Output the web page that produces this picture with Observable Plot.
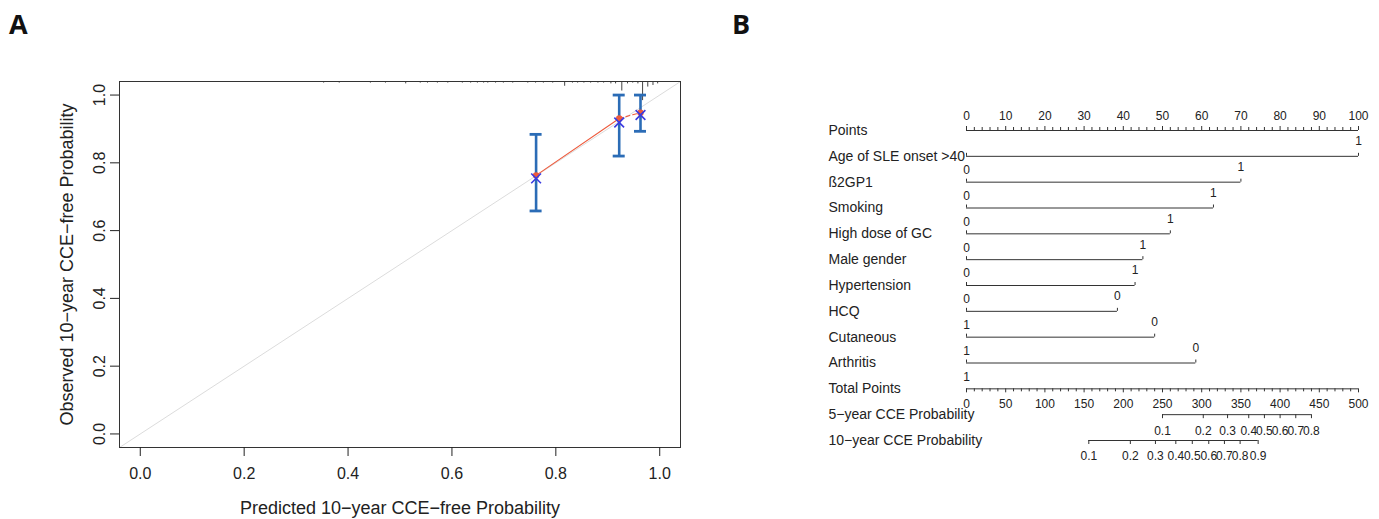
<!DOCTYPE html>
<html><head><meta charset="utf-8">
<script src="https://cdn.jsdelivr.net/npm/d3@7"></script>
<script src="https://cdn.jsdelivr.net/npm/@observablehq/plot@0.6"></script>
<style>
body{margin:0;background:#fff;}
#wrap{position:relative;width:1379px;height:519px;overflow:hidden;background:#fff;}
.letter{position:absolute;font-family:"Open Sans",sans-serif;font-weight:700;font-size:27px;color:#111;line-height:1;}
#a{position:absolute;left:0;top:0;}
#b{position:absolute;left:700px;top:0;}
</style></head><body>
<div id="wrap">
<div id="a"></div><div id="b"></div>
<div class="letter" style="left:9px;top:10px">A</div>
<div class="letter" style="left:732px;top:10px">B</div>
</div>
<script>
// ---------- Panel A: calibration curve ----------
const groupPredicted = [0.762, 0.922, 0.963];
const groupObservedKM = [0.754, 0.919, 0.941];   // blue X
const groupMeanObserved = [0.763, 0.931, 0.948]; // red points / line
const groupLower = [0.658, 0.820, 0.893];
const groupUpper = [0.884, 1.0, 1.0];
const rugPredicted = [0.353,0.383,0.443,0.472,0.511,0.539,0.553,0.572,0.592,0.620,0.636,0.649,0.661,0.669,0.684,0.699,0.717,0.746,0.761,0.776,0.794,0.817,0.832,0.842,0.854,0.867,0.881,0.892,0.906,0.915,0.927,0.938,0.948,0.958,0.967,0.977,0.987,0.996];
const rugFrequency = [1,1,1,1,1.5,1,1,1,1,1,1,1,1,1,1,1,1,1,1,1,1,3,1,1,1,1,1,1,1.5,1.5,6,1.5,1,1.5,12,3.5,2.5,1.5];
const axisTicksA = [0, 0.2, 0.4, 0.6, 0.8, 1.0];
const xTitleA = "Predicted 10\u2212year CCE\u2212free Probability";
const yTitleA = "Observed 10\u2212year CCE\u2212free Probability";

// ---------- Panel B: nomogram ----------
const rowNames = ["Points","Age of SLE onset >40","\u00df2GP1","Smoking","High dose of GC","Male gender","Hypertension","HCQ","Cutaneous","Arthritis","Total Points","5\u2212year CCE Probability","10\u2212year CCE Probability"];
const variableNames = ["Age of SLE onset >40","\u00df2GP1","Smoking","High dose of GC","Male gender","Hypertension","HCQ","Cutaneous","Arthritis"];
const variableMaxPoints = [100, 70, 63, 52, 45, 43, 38.5, 48, 58.5];
const variableLeftLabel = ["", "0", "0", "0", "0", "0", "0", "1", "1"];
const variableRightLabel = ["1", "1", "1", "1", "1", "1", "0", "0", "0"];
const pointsMajor = [0,10,20,30,40,50,60,70,80,90,100];
const totalMajor = [0,50,100,150,200,250,300,350,400,450,500];
const totalMax = 500;
const totalExtraLabel = "1";
const prob5Labels = ["0.1","0.2","0.3","0.4","0.5","0.6","0.7","0.8"];
const prob5Total = [250, 302, 333, 360, 380, 400, 420, 440];
const prob10Labels = ["0.1","0.2","0.3","0.4","0.5","0.6","0.7","0.8","0.9"];
const prob10Total = [156, 209, 241, 267, 288, 309, 329, 349, 372];

// ---------- build panel A ----------
const dom = [-0.04, 1.04];
const groups = groupPredicted.map((p, i) => ({pred: p, km: groupObservedKM[i], obs: groupMeanObserved[i], lo: groupLower[i], hi: groupUpper[i]}));
const rug = rugPredicted.map((p, i) => ({p, n: rugFrequency[i]}));
const yTop = dom[1];
const perCount = 0.0047;
const blue = "#2b6cb6", red = "#ee5a3c";
const fontA = '"Liberation Sans", Arial, sans-serif';

const plotA = Plot.plot({
  width: 700, height: 519,
  marginLeft: 119, marginRight: 20, marginTop: 81, marginBottom: 72,
  x: {domain: dom},
  y: {domain: dom},
  style: {fontFamily: fontA, fontSize: "16px", color: "#222", background: "#fff"},
  marks: [
    Plot.link([0], {x1: dom[0], y1: dom[0], x2: dom[1], y2: dom[1], stroke: "#dcdcdc", strokeWidth: 1}),
    Plot.ruleX(rug, {x: "p", y1: () => yTop, y2: d => yTop - d.n * perCount, stroke: "#444", strokeWidth: 1}),
    Plot.ruleX(groups, {x: "pred", y1: "lo", y2: "hi", stroke: blue, strokeWidth: 2.6}),
    Plot.ruleY(groups, {x1: "pred", x2: "pred", y: "lo", insetLeft: -6, insetRight: -6, stroke: blue, strokeWidth: 2.8}),
    Plot.ruleY(groups, {x1: "pred", x2: "pred", y: "hi", insetLeft: -6, insetRight: -6, stroke: blue, strokeWidth: 2.8}),
    Plot.line(groups.slice(0, 2), {x: "pred", y: "obs", stroke: red, strokeWidth: 1.1}),
    Plot.line(groups.slice(1), {x: "pred", y: "obs", stroke: red, strokeWidth: 1.1, strokeDasharray: "4,3"}),
    Plot.dot(groups, {x: "pred", y: "obs", r: 3.2, fill: red}),
    Plot.dot(groups, {x: "pred", y: "km", symbol: "times", r: 4.5, stroke: "#3a3ae0", strokeWidth: 1.6}),
    Plot.frame({stroke: "#333"}),
    Plot.axisX({ticks: axisTicksA, tickFormat: d3.format(".1f"), tickSize: 9, tickPadding: 11, fontSize: 16, label: null}),
    Plot.axisX({ticks: [], tickSize: 0, label: xTitleA, labelAnchor: "center", labelOffset: 66, labelArrow: "none", fontSize: 18}),
    Plot.axisY({ticks: axisTicksA, tickFormat: d3.format(".1f"), tickSize: 9, tickPadding: 6, tickRotate: -90, fontSize: 16, label: null}),
    Plot.axisY({ticks: [], tickSize: 0, label: yTitleA, labelAnchor: "center", labelOffset: 59, labelArrow: "none", fontSize: 18})
  ]
});
document.getElementById("a").appendChild(plotA);

// ---------- build panel B ----------
const fontB = '"Liberation Sans", Arial, sans-serif';
const ink = "#333";
const R = (name) => () => name;
const ptsRow = rowNames[0], totRow = rowNames[10], p5Row = rowNames[11], p10Row = rowNames[12];
const pointsMinor = d3.range(0, 101, 2).filter(v => v % 10 !== 0);
const totalMinor = d3.range(0, totalMax + 1, 10).filter(v => v % 50 !== 0);
const toPts = v => v * 100 / totalMax;
const vars = variableNames.map((name, i) => ({name, max: variableMaxPoints[i], left: variableLeftLabel[i], right: variableRightLabel[i]}));
const p5 = prob5Total.map((t, i) => ({t, label: prob5Labels[i]}));
const p10 = prob10Total.map((t, i) => ({t, label: prob10Labels[i]}));

const plotB = Plot.plot({
  width: 679, height: 519,
  marginLeft: 266, marginRight: 21, marginTop: 130, marginBottom: 79,
  x: {domain: [0, 100], axis: null},
  y: {type: "point", domain: rowNames, padding: 0, round: false, axis: null},
  style: {fontFamily: fontB, fontSize: "12px", color: "#222", background: "#fff"},
  marks: [
    // row labels
    Plot.text(rowNames, {y: d => d, text: d => d, frameAnchor: "left", textAnchor: "start", dx: -138, fontSize: 14, fill: "#222"}),
    // Points axis (ticks up, labels above)
    Plot.ruleY([ptsRow], {y: d => d, x1: () => 0, x2: () => 100, stroke: ink}),
    Plot.ruleX(pointsMajor, {x: d => d, y1: R(ptsRow), y2: R(ptsRow), insetTop: -4, stroke: ink}),
    Plot.ruleX(pointsMinor, {x: d => d, y1: R(ptsRow), y2: R(ptsRow), insetTop: -3, stroke: ink}),
    Plot.text(pointsMajor, {x: d => d, y: R(ptsRow), text: d => String(d), dy: -14}),
    // variable rows
    Plot.ruleY(vars, {y: "name", x1: () => 0, x2: "max", stroke: ink}),
    Plot.ruleX(vars, {x: () => 0, y1: "name", y2: "name", insetTop: -3, stroke: ink}),
    Plot.ruleX(vars, {x: "max", y1: "name", y2: "name", insetTop: -3, stroke: ink}),
    Plot.text(vars, {x: () => 0, y: "name", text: "left", dy: -12}),
    Plot.text(vars, {x: "max", y: "name", text: "right", dy: -15}),
    // Total points axis (ticks down, labels below)
    Plot.ruleY([totRow], {y: d => d, x1: () => 0, x2: () => 100, stroke: ink}),
    Plot.ruleX(totalMajor, {x: toPts, y1: R(totRow), y2: R(totRow), insetBottom: -4, stroke: ink}),
    Plot.ruleX(totalMinor, {x: toPts, y1: R(totRow), y2: R(totRow), insetBottom: -3, stroke: ink}),
    Plot.text(totalMajor, {x: toPts, y: R(totRow), text: d => String(d), dy: 15}),
    Plot.text([totalExtraLabel], {x: () => 0, y: R(totRow), text: d => d, dy: -12}),
    // 5-year probability axis
    Plot.ruleY([p5Row], {y: d => d, x1: () => toPts(d3.min(prob5Total)), x2: () => toPts(d3.max(prob5Total)), stroke: ink}),
    Plot.ruleX(p5, {x: d => toPts(d.t), y1: R(p5Row), y2: R(p5Row), insetBottom: -4, stroke: ink}),
    Plot.text(p5, {x: d => toPts(d.t), y: R(p5Row), text: "label", dy: 16}),
    // 10-year probability axis
    Plot.ruleY([p10Row], {y: d => d, x1: () => toPts(d3.min(prob10Total)), x2: () => toPts(d3.max(prob10Total)), stroke: ink}),
    Plot.ruleX(p10, {x: d => toPts(d.t), y1: R(p10Row), y2: R(p10Row), insetBottom: -4, stroke: ink}),
    Plot.text(p10, {x: d => toPts(d.t), y: R(p10Row), text: "label", dy: 16})
  ]
});
document.getElementById("b").appendChild(plotB);
</script>
</body></html>
